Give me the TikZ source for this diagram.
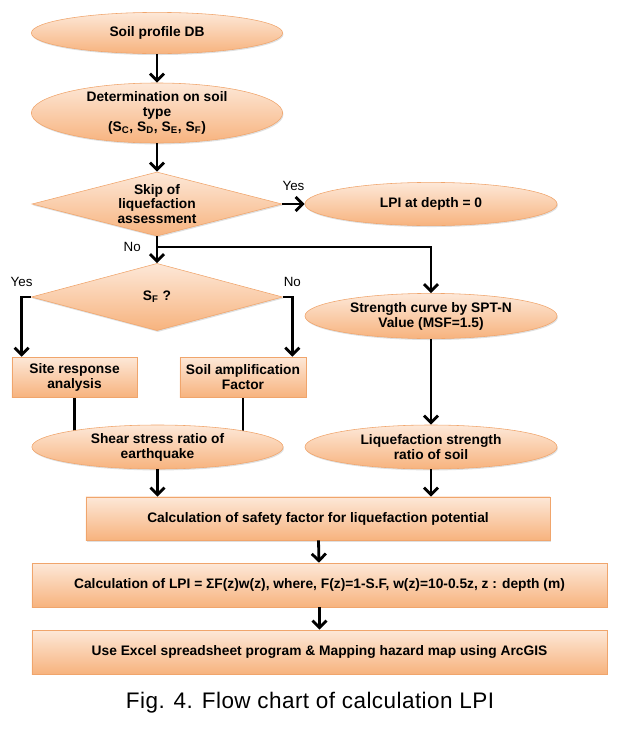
\documentclass[tikz,border=0pt]{standalone}
\usepackage{fontspec}
\setmainfont{Liberation Sans}
\setsansfont{Liberation Sans}
\usetikzlibrary{arrows.meta, positioning, shapes.geometric, shadows, backgrounds}
\definecolor{peachtop}{HTML}{FDE8D8}
\definecolor{peachbot}{HTML}{F7B37E}
\definecolor{peachline}{HTML}{F0A56C}
\tikzset{
  flowbase/.style={draw=peachline, line width=0.4pt, top color=peachtop, bottom color=peachbot,
    align=center, font=\sffamily\bfseries\fontsize{9.8}{10.6}\selectfont,
    drop shadow={shadow xshift=0.6pt, shadow yshift=-1pt, opacity=0.25}},
  ovalnode/.style={flowbase, ellipse, inner sep=-6pt},
  decision/.style={flowbase, diamond, aspect=3.9, inner sep=-6pt},
  procbox/.style={flowbase, rectangle, inner sep=2pt},
  flowline/.style={line width=2pt},
  flowarrow/.style={flowline, -{Straight Barb[length=5pt, width=10pt]}},
  answer/.style={font=\sffamily\fontsize{9.5}{10}\selectfont}
}

\begin{document}
\begin{tikzpicture}[x=0.025cm, y=-0.025cm]
    \useasboundingbox (0,0) rectangle (620,731);

    \node[ovalnode, minimum width=6.28cm, minimum height=1.03cm] (soildb) at (157,33) {Soil profile DB};
    \node[ovalnode, minimum width=6.28cm, minimum height=1.5cm] (soiltype) at (157,113)
      {Determination on soil\\type\\(S\textsubscript{C}, S\textsubscript{D}, S\textsubscript{E}, S\textsubscript{F})};
    \node[decision, minimum width=6.25cm, minimum height=1.6cm] (skip) at (157,204) {Skip of\\liquefaction\\assessment};
    \node[ovalnode, minimum width=6.3cm, minimum height=1.08cm] (lpizero) at (431,204) {LPI at depth = 0};
    \node[decision, minimum width=6.28cm, minimum height=1.68cm] (sf) at (157,297) {S\textsubscript{F} ?};
    \node[ovalnode, minimum width=6.3cm, minimum height=1.13cm] (sptn) at (431,316) {Strength curve by SPT-N\\Value (MSF=1.5)};

    \node[procbox, minimum width=3.13cm, minimum height=1cm] (siteresp) at (74.5,377) {Site response\\analysis};
    \node[procbox, minimum width=3.15cm, minimum height=1cm] (amplif) at (243,377) {Soil amplification\\Factor};
    \node[ovalnode, minimum width=6.28cm, minimum height=1.1cm] (shear) at (157.5,447) {Shear stress ratio of\\earthquake};
    \node[ovalnode, minimum width=6.3cm, minimum height=1.1cm] (liqratio) at (431,447) {Liquefaction strength\\ratio of soil};

    \node[procbox, minimum width=11.6cm, minimum height=1.08cm] (safety) at (318,518.5)
      {Calculation of safety factor for liquefaction potential};
    \node[procbox, minimum width=14.38cm, minimum height=1.1cm] (lpicalc) at (319.5,585)
      {Calculation of LPI = ΣF(z)w(z), where, F(z)=1-S.F, w(z)=10-0.5z, z : depth (m)};
    \node[procbox, minimum width=14.38cm, minimum height=1.1cm] (mapping) at (319.5,652)
      {Use Excel spreadsheet program \& Mapping hazard map using ArcGIS};
    \node[font=\fontsize{16}{18}\selectfont\addfontfeature{LetterSpace=2}] (caption) at (310,703) {Fig. 4. Flow chart of calculation LPI};

    \coordinate (split) at (157,247);
    \draw[flowarrow] (soildb) -- (soiltype);
    \draw[flowarrow] (soiltype) -- (skip);
    \draw[flowarrow] (skip) -- node[answer, above=5pt] {Yes} (lpizero);
    \draw[flowarrow] (skip) -- (sf);
    \node[answer, left=8pt] (nolabel) at (split) {No};
    \draw[flowarrow] (split) -| (sptn);
    \draw[flowarrow] (sf.west) -| node[answer, above=3pt, pos=0.5] {Yes} ([xshift=0.25cm]siteresp.north west);
    \draw[flowarrow] (sf.east) -| node[answer, above=3pt, pos=0.5] {No} ([xshift=-0.35cm]amplif.north east);
    \begin{scope}[on background layer]
      \draw[flowline] (siteresp.south) -- (siteresp.south |- shear.center);
      \draw[flowline] (amplif.south) -- (amplif.south |- shear.center);
    \end{scope}
    \draw[flowarrow] (sptn) -- (liqratio);
    \draw[flowarrow] (shear) -- (shear |- safety.north);
    \draw[flowarrow] (liqratio) -- (liqratio |- safety.north);
    \draw[flowarrow] (safety) -- (lpicalc);
    \draw[flowarrow] (lpicalc) -- (mapping);
\end{tikzpicture}
\end{document}
